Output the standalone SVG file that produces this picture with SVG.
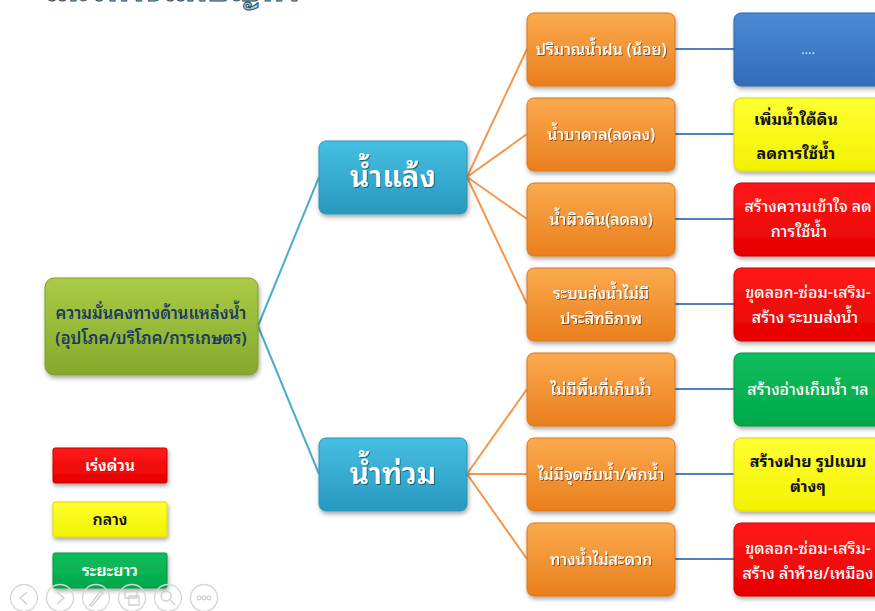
<svg xmlns="http://www.w3.org/2000/svg" width="875" height="611" viewBox="0 0 875 611">
  <defs>
    <linearGradient id="gGreen" x1="0" y1="0" x2="0" y2="1">
      <stop offset="0" stop-color="#a9cb45"/>
      <stop offset="1" stop-color="#86a92b"/>
    </linearGradient>
    <linearGradient id="gTeal" x1="0" y1="0" x2="0" y2="1">
      <stop offset="0" stop-color="#46bfe2"/>
      <stop offset="1" stop-color="#2898be"/>
    </linearGradient>
    <linearGradient id="gOrange" x1="0" y1="0" x2="0" y2="1">
      <stop offset="0" stop-color="#fbaa4e"/>
      <stop offset="1" stop-color="#ea7f1d"/>
    </linearGradient>
    <linearGradient id="gBlue" x1="0" y1="0" x2="0" y2="1">
      <stop offset="0" stop-color="#4a8ad6"/>
      <stop offset="1" stop-color="#336cb8"/>
    </linearGradient>
    <linearGradient id="gRed" x1="0" y1="0" x2="0" y2="1">
      <stop offset="0" stop-color="#ff1a1a"/>
      <stop offset="1" stop-color="#e60000"/>
    </linearGradient>
    <linearGradient id="gYellow" x1="0" y1="0" x2="0" y2="1">
      <stop offset="0" stop-color="#ffff33"/>
      <stop offset="1" stop-color="#f2f200"/>
    </linearGradient>
    <linearGradient id="gLeaf" x1="0" y1="0" x2="0" y2="1">
      <stop offset="0" stop-color="#10bd5c"/>
      <stop offset="1" stop-color="#00a84b"/>
    </linearGradient>
    <filter id="shadow" x="-10%" y="-10%" width="120%" height="130%">
      <feDropShadow dx="1" dy="2.5" stdDeviation="2" flood-color="#000" flood-opacity="0.35"/>
    </filter>
    <filter id="txtShadow" x="-5%" y="-10%" width="110%" height="130%">
      <feDropShadow dx="1" dy="1" stdDeviation="0.6" flood-color="#000" flood-opacity="0.45"/>
    </filter>
  </defs>
  <style>
    text { font-family: "Noto Sans Thai Looped", "Noto Sans Thai", "Noto Sans", "DejaVu Sans", sans-serif; text-anchor: middle; }
    .box { filter: url(#shadow); }
    .root { fill: url(#gGreen); stroke: #7f9e2a; stroke-width: 1; }
    .teal { fill: url(#gTeal); stroke: #2a95b8; stroke-width: 1; }
    .orange { fill: url(#gOrange); stroke: #d9771c; stroke-width: 1; }
    .blue { fill: url(#gBlue); stroke: #2f64a8; stroke-width: 1; }
    .red { fill: url(#gRed); stroke: #c80000; stroke-width: 1; }
    .yellow { fill: url(#gYellow); stroke: #d8d800; stroke-width: 1; }
    .green { fill: url(#gLeaf); stroke: #00953f; stroke-width: 1; }
    .tRoot { font-size: 16.5px; font-weight: 600; fill: #1f3a5f; }
    .tTeal { font-size: 30px; font-weight: 600; fill: #ffffff; filter: url(#txtShadow); }
    .tOrange { font-size: 16px; font-weight: 500; fill: #ffffff; filter: url(#txtShadow); }
    .tLight { font-size: 16px; font-weight: 500; fill: #ffffff; }
    .tDark { font-size: 16px; font-weight: bold; fill: #111111; }
    .tDots { font-size: 13px; fill: #dbe6f5; }
    .tLegend { font-size: 16px; font-weight: 600; }
    .lnTeal { stroke: #4badc9; stroke-width: 2; fill: none; }
    .lnOrange { stroke: #f5964a; stroke-width: 2; fill: none; }
    .lnBlue { stroke: #4f7fbf; stroke-width: 2; fill: none; }
    .nav circle { fill: none; stroke: #d6d6d6; stroke-width: 1.3; }
    .nav path { fill: none; stroke: #cfcfcf; stroke-width: 1.3; }
  </style>

  <rect width="875" height="611" fill="#ffffff"/>

  <!-- slide title, mostly above the visible area -->
  <text x="172" y="1" style="font-size:34px;font-weight:bold;fill:#8fd0e6;stroke:#3a4a55;stroke-width:1">แนวทางแก้ปัญหา</text>

  <!-- connectors -->
  <g id="connectors">
    <path class="lnTeal" d="M258,326 L319,177"/>
    <path class="lnTeal" d="M258,326 L319,474"/>
    <path class="lnOrange" d="M467,177 L527,49"/>
    <path class="lnOrange" d="M467,177 L527,134"/>
    <path class="lnOrange" d="M467,177 L527,219"/>
    <path class="lnOrange" d="M467,177 L527,304"/>
    <path class="lnOrange" d="M467,474 L527,389"/>
    <path class="lnOrange" d="M467,474 L527,474"/>
    <path class="lnOrange" d="M467,474 L527,559"/>
    <path class="lnBlue" d="M675,49 H734"/>
    <path class="lnBlue" d="M675,134 H734"/>
    <path class="lnBlue" d="M675,219 H734"/>
    <path class="lnBlue" d="M675,304 H734"/>
    <path class="lnBlue" d="M675,389 H734"/>
    <path class="lnBlue" d="M675,474 H734"/>
    <path class="lnBlue" d="M675,559 H734"/>
  </g>

  <!-- root -->
  <g id="root">
    <rect class="box root" x="45" y="278" width="213" height="97" rx="9"/>
    <text class="tRoot" x="151" y="319">ความมั่นคงทางด้านแหล่งน้ำ</text>
    <text class="tRoot" x="151" y="344">(อุปโภค/บริโภค/การเกษตร)</text>
  </g>

  <!-- second level -->
  <g id="drought">
    <rect class="box teal" x="319" y="141" width="148" height="73" rx="7"/>
    <text class="tTeal" x="393" y="187">น้ำแล้ง</text>
  </g>
  <g id="flood">
    <rect class="box teal" x="319" y="438" width="148" height="73" rx="7"/>
    <text class="tTeal" x="393" y="484">น้ำท่วม</text>
  </g>

  <!-- causes -->
  <g id="cause-rain">
    <rect class="box orange" x="527" y="13" width="148" height="73" rx="7"/>
    <text class="tOrange" x="601" y="55">ปริมาณน้ำฝน (น้อย)</text>
  </g>
  <g id="cause-groundwater">
    <rect class="box orange" x="527" y="98" width="148" height="73" rx="7"/>
    <text class="tOrange" x="601" y="140">น้ำบาดาล(ลดลง)</text>
  </g>
  <g id="cause-surface">
    <rect class="box orange" x="527" y="183" width="148" height="73" rx="7"/>
    <text class="tOrange" x="601" y="225">น้ำผิวดิน(ลดลง)</text>
  </g>
  <g id="cause-supply">
    <rect class="box orange" x="527" y="268" width="148" height="73" rx="7"/>
    <text class="tOrange" x="601" y="299">ระบบส่งน้ำไม่มี</text>
    <text class="tOrange" x="601" y="324">ประสิทธิภาพ</text>
  </g>
  <g id="cause-storage">
    <rect class="box orange" x="527" y="353" width="148" height="73" rx="7"/>
    <text class="tOrange" x="601" y="395">ไม่มีพื้นที่เก็บน้ำ</text>
  </g>
  <g id="cause-retention">
    <rect class="box orange" x="527" y="438" width="148" height="73" rx="7"/>
    <text class="tOrange" x="601" y="480">ไม่มีจุดซับน้ำ/พักน้ำ</text>
  </g>
  <g id="cause-channel">
    <rect class="box orange" x="527" y="523" width="148" height="73" rx="7"/>
    <text class="tOrange" x="601" y="565">ทางน้ำไม่สะดวก</text>
  </g>

  <!-- measures -->
  <g id="act-rain">
    <rect class="box blue" x="734" y="13" width="150" height="73" rx="7"/>
    <text class="tDots" x="808" y="54">....</text>
  </g>
  <g id="act-groundwater">
    <rect class="box yellow" x="734" y="98" width="150" height="73" rx="7"/>
    <text class="tDark" x="796" y="125">เพิ่มน้ำใต้ดิน</text>
    <text class="tDark" x="796" y="159">ลดการใช้น้ำ</text>
  </g>
  <g id="act-surface">
    <rect class="box red" x="734" y="183" width="150" height="73" rx="7"/>
    <text class="tLight" x="808" y="212">สร้างความเข้าใจ ลด</text>
    <text class="tLight" x="799" y="237">การใช้น้ำ</text>
  </g>
  <g id="act-supply">
    <rect class="box red" x="734" y="268" width="150" height="73" rx="7"/>
    <text class="tLight" x="808" y="298">ขุดลอก-ซ่อม-เสริม-</text>
    <text class="tLight" x="805" y="323">สร้าง ระบบส่งน้ำ</text>
  </g>
  <g id="act-storage">
    <rect class="box green" x="734" y="353" width="150" height="73" rx="7"/>
    <text class="tLight" x="808" y="395">สร้างอ่างเก็บน้ำ ฯล</text>
  </g>
  <g id="act-retention">
    <rect class="box yellow" x="734" y="438" width="150" height="73" rx="7"/>
    <text class="tDark" x="808" y="467">สร้างฝาย รูปแบบ</text>
    <text class="tDark" x="808" y="492">ต่างๆ</text>
  </g>
  <g id="act-channel">
    <rect class="box red" x="734" y="523" width="150" height="73" rx="7"/>
    <text class="tLight" x="808" y="554">ขุดลอก-ซ่อม-เสริม-</text>
    <text class="tLight" x="808" y="579">สร้าง ลำห้วย/เหมือง</text>
  </g>

  <!-- priority legend -->
  <g id="legend-urgent">
    <rect class="box red" x="53" y="448" width="114" height="35" rx="2"/>
    <text class="tLegend" x="110" y="471" fill="#ffffff">เร่งด่วน</text>
  </g>
  <g id="legend-medium">
    <rect class="box yellow" x="53" y="502" width="114" height="35" rx="2"/>
    <text class="tLegend" x="110" y="525" fill="#111111">กลาง</text>
  </g>
  <g id="legend-long">
    <rect class="box green" x="53" y="553" width="114" height="35" rx="2"/>
    <text class="tLegend" x="110" y="576" fill="#ffffff">ระยะยาว</text>
  </g>

  <!-- slideshow navigation controls -->
  <g class="nav">
    <circle cx="24" cy="598" r="13.5"/>
    <path d="M27,592 L20,598 L27,604"/>
    <circle cx="60" cy="598" r="13.5"/>
    <path d="M57,592 L64,598 L57,604"/>
    <circle cx="96" cy="598" r="13.5"/>
    <path d="M90,605 L101,591 L103,593 L92,606 Z"/>
    <circle cx="132" cy="598" r="13.5"/>
    <path d="M125,591 H137 V598 H125 Z M129,596 H139 V605 H129 Z"/>
    <circle cx="168" cy="598" r="13.5"/>
    <circle cx="166" cy="596" r="5" style="stroke:#cfcfcf"/>
    <path d="M170,600 L175,605"/>
    <circle cx="204" cy="598" r="13.5"/>
    <circle cx="199" cy="598" r="1.8" style="stroke:#cfcfcf"/>
    <circle cx="204" cy="598" r="1.8" style="stroke:#cfcfcf"/>
    <circle cx="209" cy="598" r="1.8" style="stroke:#cfcfcf"/>
  </g>
</svg>
